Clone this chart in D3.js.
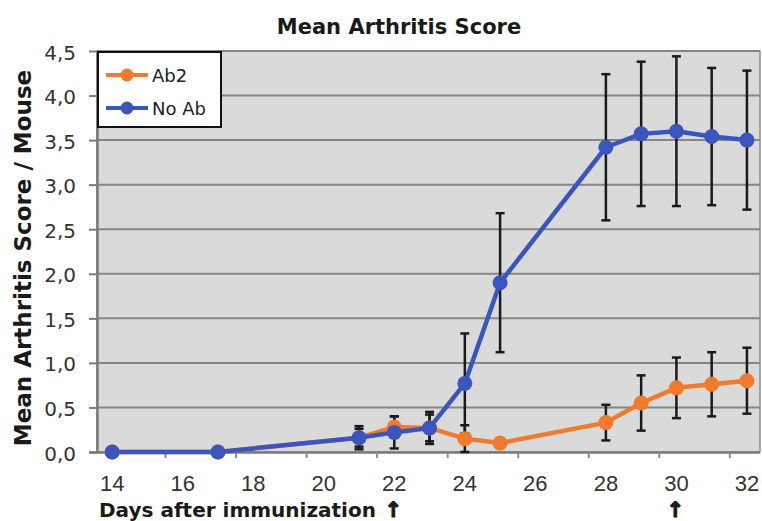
<!DOCTYPE html>
<html>
<head>
<meta charset="utf-8">
<script src="https://cdn.jsdelivr.net/npm/d3@7"></script>
<style>
  body { margin: 0; background: #fff; }
  svg { display: block; font-family: "DejaVu Sans", "Liberation Sans", sans-serif; }
</style>
</head>
<body>
<div id="chart-area"></div>
<script>
/* Data */
const days      = [14, 17, 21, 22, 23, 24, 25, 28, 29, 30, 31, 32];
const ab2Mean   = [0, 0, 0.16, 0.28, 0.27, 0.15, 0.10, 0.33, 0.55, 0.72, 0.76, 0.80];
const ab2Err    = [0, 0, 0.10, 0.12, 0.15, 0.15, 0.05, 0.20, 0.31, 0.34, 0.36, 0.37];
const noAbMean  = [0, 0, 0.16, 0.22, 0.27, 0.77, 1.90, 3.42, 3.57, 3.60, 3.54, 3.50];
const noAbErr   = [0, 0, 0.13, 0.18, 0.18, 0.56, 0.78, 0.82, 0.81, 0.84, 0.77, 0.78];
const yTicks    = [0, 0.5, 1, 1.5, 2, 2.5, 3, 3.5, 4, 4.5];
const xTicks    = [14, 16, 18, 20, 22, 24, 26, 28, 30, 32];
const xTickMarks = [15.5, 17.5, 19.5, 21.5, 23.5, 25.5, 27.5, 29.5, 31.5];
const arrowDays = [22, 30];

const series = [
    { name: 'Ab2',   color: '#f07b2c', mean: ab2Mean,  err: ab2Err },
    { name: 'No Ab', color: '#3a56bc', mean: noAbMean, err: noAbErr }
];

/* SVG */
const W = 762, H = 521;
const plot = { left: 97, right: 760, top: 51, bottom: 452 };

const svg = d3.select('#chart-area')
    .append('svg')
    .attr('width', W)
    .attr('height', H);

const x = d3.scaleLinear()
    .domain([13.57, 32.37])
    .range([plot.left, plot.right]);

const y = d3.scaleLinear()
    .domain([0, 4.5])
    .range([plot.bottom, plot.top]);

/* Background */
svg.append('rect')
    .attr('x', plot.left).attr('y', plot.top)
    .attr('width', plot.right - plot.left)
    .attr('height', plot.bottom - plot.top)
    .attr('fill', '#dadada')
    .attr('stroke', '#8c8c8c')
    .attr('stroke-width', 1.5);

/* Grid */
svg.append('g')
    .selectAll('line')
    .data(yTicks.filter(d => d > 0))
    .enter().append('line')
        .attr('x1', plot.left).attr('x2', plot.right)
        .attr('y1', d => y(d)).attr('y2', d => y(d))
        .attr('stroke', '#868686')
        .attr('stroke-width', 2);

/* Y axis */
const yAxis = svg.append('g')
    .attr('transform', `translate(${plot.left},0)`)
    .call(d3.axisLeft(y)
        .tickValues(yTicks)
        .tickSizeInner(8)
        .tickSizeOuter(0)
        .tickPadding(13)
        .tickFormat(d => d3.format('.1f')(d).replace('.', ',')));

yAxis.select('.domain').attr('stroke', '#7a7a7a').attr('stroke-width', 2.5);
yAxis.selectAll('.tick line').attr('stroke', '#7a7a7a').attr('stroke-width', 2);
yAxis.selectAll('.tick text')
    .attr('font-family', '"DejaVu Sans", sans-serif')
    .attr('font-size', 20)
    .attr('dy', '0.4em')
    .attr('fill', '#333');

/* X axis */
const xAxis = svg.append('g')
    .attr('transform', `translate(0,${plot.bottom})`)
    .call(d3.axisBottom(x)
        .tickValues(xTickMarks)
        .tickSizeInner(6)
        .tickSizeOuter(0)
        .tickFormat(''));

xAxis.select('.domain').attr('stroke', '#7a7a7a').attr('stroke-width', 2.5)
    .attr('d', `M${plot.left - 8},0.5H${plot.right}`);
xAxis.selectAll('.tick line').attr('stroke', '#8a8a8a').attr('stroke-width', 2);

svg.append('g')
    .selectAll('text')
    .data(xTicks)
    .enter().append('text')
        .attr('x', d => x(d))
        .attr('y', 491)
        .attr('text-anchor', 'middle')
        .attr('font-family', '"Liberation Sans Narrow", "Liberation Sans", sans-serif')
        .attr('font-size', 22)
        .attr('fill', '#333')
        .text(d => d);

/* Error bars */
const cap = 4.5;
series.forEach(s => {
    const g = svg.append('g');
    days.forEach((d, i) => {
        if (s.err[i] <= 0) return;
        const cx = x(d), lo = y(Math.max(0, s.mean[i] - s.err[i])), hi = y(s.mean[i] + s.err[i]);
        g.append('line').attr('x1', cx).attr('x2', cx).attr('y1', lo).attr('y2', hi);
        g.append('line').attr('x1', cx - cap).attr('x2', cx + cap).attr('y1', lo).attr('y2', lo);
        g.append('line').attr('x1', cx - cap).attr('x2', cx + cap).attr('y1', hi).attr('y2', hi);
    });
    g.selectAll('line').attr('stroke', '#1a1a1a').attr('stroke-width', 2.5);
});

/* Lines + markers */
const line = d3.line()
    .x(d => x(d[0]))
    .y(d => y(d[1]));

series.forEach(s => {
    const pts = days.map((d, i) => [d, s.mean[i]]);
    svg.append('path')
        .attr('d', line(pts))
        .attr('fill', 'none')
        .attr('stroke', s.color)
        .attr('stroke-width', 4.5)
        .attr('stroke-linejoin', 'round');
    svg.append('g')
        .selectAll('circle')
        .data(pts)
        .enter().append('circle')
            .attr('cx', d => x(d[0]))
            .attr('cy', d => y(d[1]))
            .attr('r', 7.5)
            .attr('fill', s.color);
});

/* Legend */
const legend = svg.append('g');
legend.append('rect')
    .attr('x', 98).attr('y', 52)
    .attr('width', 123).attr('height', 75)
    .attr('fill', '#fff')
    .attr('stroke', '#111')
    .attr('stroke-width', 2);

series.forEach((s, i) => {
    const ly = 75 + i * 33;
    legend.append('line')
        .attr('x1', 106).attr('x2', 148)
        .attr('y1', ly).attr('y2', ly)
        .attr('stroke', s.color).attr('stroke-width', 4);
    legend.append('circle')
        .attr('cx', 127).attr('cy', ly).attr('r', 6.5)
        .attr('fill', s.color);
    legend.append('text')
        .attr('x', 152).attr('y', ly + 7)
        .attr('font-size', 18)
        .attr('fill', '#222')
        .text(s.name);
});

/* Labels */
svg.append('text')
    .attr('x', 399).attr('y', 34)
    .attr('text-anchor', 'middle')
    .attr('font-size', 21)
    .attr('font-weight', 'bold')
    .attr('fill', '#1a1a1a')
    .text('Mean Arthritis Score');

svg.append('text')
    .attr('transform', 'translate(31,258) rotate(-90)')
    .attr('text-anchor', 'middle')
    .attr('font-size', 23)
    .attr('font-weight', 'bold')
    .attr('fill', '#1a1a1a')
    .text('Mean Arthritis Score / Mouse');

svg.append('text')
    .attr('x', 99).attr('y', 517)
    .attr('font-size', 20)
    .attr('font-weight', 'bold')
    .attr('fill', '#1a1a1a')
    .text('Days after immunization');

svg.append('g')
    .selectAll('text')
    .data(arrowDays)
    .enter().append('text')
        .attr('x', d => x(d) - 1)
        .attr('y', 517)
        .attr('text-anchor', 'middle')
        .attr('font-family', '"DejaVu Sans", sans-serif')
        .attr('font-size', 21)
        .attr('font-weight', 'bold')
        .attr('fill', '#1a1a1a')
        .attr('stroke', '#1a1a1a')
        .attr('stroke-width', 1.2)
        .text('↑');
</script>
</body>
</html>
